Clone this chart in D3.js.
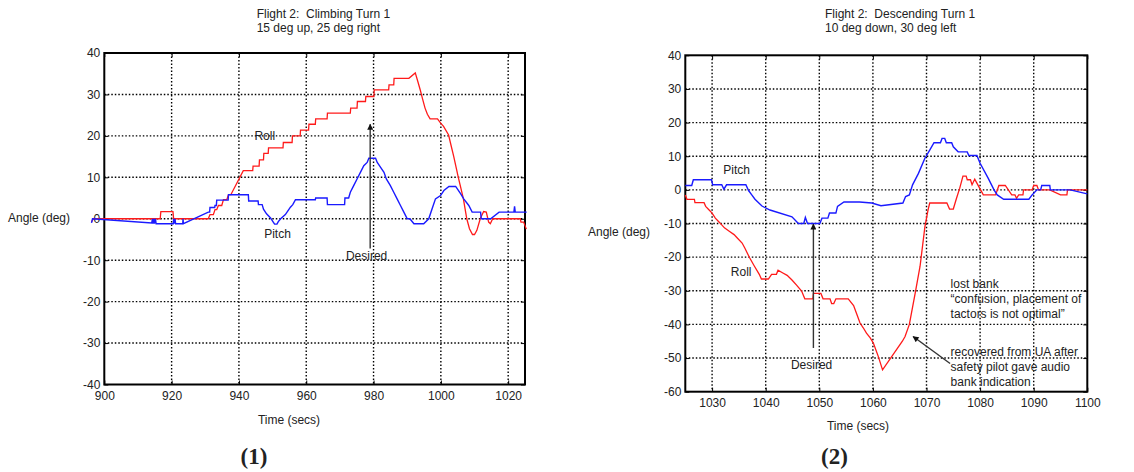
<!DOCTYPE html>
<html>
<head>
<meta charset="utf-8">
<script src="https://cdn.jsdelivr.net/npm/d3@7"></script>
<style>
body { margin: 0; background: #fff; }
text { font-family: "Liberation Sans", Arial, sans-serif; font-size: 12px; fill: #222; white-space: pre; }
</style>
</head>
<body>
<script>
// values, [time (s), angle (deg)]
var climbRoll = [[896.2,-0.8],[896.7,0],[916.6,0],[916.8,1.7],[920.4,1.7],[920.6,0],[930.9,0],
    [931.4,1],[932.4,1],[932.9,2.2],[933.4,2.2],[933.9,3.2],[934.9,3.2],[935.4,4.6],[936.4,4.6],[936.9,5.8],[937.6,5.8],
    [941.3,11.6],[944.1,11.6],[944.2,12.7],[946,12.7],[946.1,14.2],[947.3,14.2],[947.4,15.8],[948.7,15.8],[948.8,17.1],
    [953.1,17.1],[953.2,18.4],[955.8,18.4],[955.9,20],[958.2,20],[958.3,21.4],[960.7,21.4],[960.8,22.8],[962.7,22.8],
    [962.8,24.1],[966.2,24.1],[966.3,25.5],[973.1,25.5],[973.2,26.7],[975.1,26.7],[975.2,28.3],[977.6,28.3],[977.7,29.5],
    [980.1,29.5],[980.2,31.1],[984.5,31.1],[984.6,32.3],[986,32.3],[986.1,33.9],[990.5,33.9],[992.4,35.2],
    [993.2,33],[993.9,31],[994.6,28.8],[995.3,26.7],[996,25.2],[996.8,24.1],[999,24.1],[1000,23],[1000.8,22.3],
    [1002.3,20.2],[1003,17.8],[1003.8,15.1],[1004.5,12.5],[1005.2,9.9],[1006,7.2],[1006.7,4.8],[1007.2,2.4],[1007.7,0],
    [1008.5,-2.4],[1009.4,-3.8],[1010,-3.8],[1010.7,-2.8],[1011.7,0],[1012.7,1.75],[1013.5,1.6],[1014.2,-0.8],[1014.7,-1.2],
    [1015.4,0],[1023.6,0],[1023.8,-0.8],[1024.6,-0.8],[1025.4,-2.5]];

var climbPitch = [[896.2,-1],[896.5,0],[914.1,-1],[914.3,0],[914.5,-1.2],[914.7,0],[914.9,-1.2],[915.2,0],[915.4,-1.2],
    [920.5,-1.2],[920.6,0],[920.8,-1.2],[921,0],[921.2,-1.2],[923.3,-1.2],[923.4,0],[923.5,-1.2],
    [930.9,1.6],[931.3,1.6],[931.4,2.7],[932.8,2.7],[932.9,3.2],[933.3,3.2],[933.4,4.5],[936.8,4.5],[936.9,5.8],
    [942.8,5.8],[942.9,4.3],[945.7,4.3],[945.8,3.4],[946.9,3.4],[947.3,2.3],[948.2,1.2],[949.4,0.2],[950.2,-0.8],
    [950.6,-1.3],[951.3,-1.3],[951.7,-0.7],[952.4,0],[953.8,1],[954.8,2.2],[955.3,2.8],[956,3.4],[956.8,4.6],
    [962.7,4.6],[962.8,5],[966.2,5],[966.3,3.4],[971.4,3.4],[971.5,5],[972.6,5],[973.1,6.4],[974.1,8],[975.1,9.6],
    [976.1,11.2],[977.1,12.8],[978.1,13.6],[978.6,14.6],[980.6,14.6],[981.1,13.6],[982.1,12.4],[983.1,11.2],[983.8,9.6],
    [985,8],[986,6.4],[987,4.8],[988,3.2],[989,1.6],[990,0],[990.8,0],[992,-1.2],[994.9,-1.2],[996.4,0],[997.4,2.4],
    [998.4,4.8],[999.9,5.6],[1000.9,6.8],[1002.4,7.8],[1004.4,7.8],[1005.9,6],[1006.8,4.8],[1008.3,3.2],[1009.3,1.6],
    [1011.8,1.6],[1012,0],[1014.8,0],[1017.3,1.6],[1021.7,1.6],[1021.9,3],[1022.1,1.6],[1025.5,1.6]];

var descRoll = [[1025,-1.5],[1025.3,-2.8],[1026.7,-2.8],[1026.8,-3.8],[1028.5,-3.8],[1028.8,-4.9],[1029.4,-5.9],[1030,-6.9],
    [1030.6,-8.4],[1031.2,-9.4],[1031.8,-10.4],[1032.3,-11.3],[1033.2,-12.3],[1034.1,-13.3],[1034.7,-14.3],[1035.6,-15.8],
    [1036.1,-17.3],[1037,-20.2],[1037.9,-22.7],[1038.8,-25.1],[1039.2,-26.5],[1040.5,-26.5],[1041.1,-25.1],[1042,-25.1],
    [1042.3,-23.9],[1043.2,-24.7],[1044,-25.4],[1044.9,-26.8],[1045.8,-28.4],[1046.7,-30.1],[1047.3,-32.4],[1048.8,-32.4],
    [1048.9,-30.8],[1050.3,-30.8],[1050.7,-32.4],[1052,-32.4],[1052.3,-33.8],[1052.7,-33.8],[1053.1,-32.4],[1055.4,-32.4],
    [1056.4,-34.4],[1057,-37],[1057.6,-39.6],[1058.2,-41],[1058.8,-42.6],[1059.5,-44],[1060.1,-45.6],[1061,-49.5],
    [1061.8,-53.5],[1065.5,-45],[1066,-43.6],[1066.8,-40],[1067.9,-30.6],[1068.8,-22.7],[1069.7,-11],[1070.3,-5.9],
    [1070.6,-3.9],[1073.8,-3.9],[1074.3,-5.7],[1075,-5.7],[1075.6,-2.5],[1076.2,0.5],[1076.8,4.1],[1077.4,4.1],[1077.6,3],
    [1078.2,3],[1078.5,1.5],[1079,3.2],[1079.4,2],[1080.6,-1.5],[1082.9,-1.5],[1083.5,1.3],[1084.7,1.3],[1085.9,-1.5],
    [1086.5,-1.5],[1086.8,-2.5],[1087.2,-1.5],[1088,-1.5],[1088.1,0],[1089.7,0],[1090,1.3],[1090.6,1.3],[1090.9,0],
    [1093,0],[1095,-1.5],[1096.2,-1.5],[1096.3,0],[1100,0]];

var descPitch = [[1025,1.3],[1026.2,1.3],[1026.5,3],[1029.9,3],[1030.1,1.5],[1031.8,1.5],[1032.2,0.2],[1032.7,1.5],
    [1036.3,1.5],[1036.8,-0.2],[1037.4,-1.5],[1038,-2.8],[1039.3,-4.8],[1040.8,-6],[1044.9,-8],[1046.1,-10],[1047.1,-10],
    [1047.4,-8.2],[1047.8,-10],[1050.1,-10],[1050.5,-8.4],[1051.6,-8.4],[1051.9,-6.9],[1053.1,-6.9],[1053.4,-4.9],
    [1054.6,-3.6],[1057.5,-3.6],[1059.8,-3.9],[1061.5,-4.7],[1065.6,-3.9],[1066.1,-2],[1066.8,-1.5],[1067.4,1.5],
    [1068.5,4.9],[1069.7,9.4],[1070.6,11.8],[1071.4,14],[1072.6,14],[1072.9,15.3],[1073.4,15.3],[1073.7,14],[1074.7,14],
    [1075,12.8],[1075.9,11.3],[1077.6,11.3],[1077.9,10.2],[1079.4,10.2],[1080,7.9],[1081.5,3.5],[1082.6,0],[1083.2,-1.5],
    [1084.4,-2.8],[1089.1,-2.8],[1089.7,-1.5],[1090.6,0],[1091.3,0],[1091.5,1.3],[1093,1.3],[1093.1,0],[1096.8,0],[1100,-1.2]];

var climbXTicks = [900, 920, 940, 960, 980, 1000, 1020];
var climbYTicks = [-40, -30, -20, -10, 0, 10, 20, 30, 40];
var descXTicks = [1030, 1040, 1050, 1060, 1070, 1080, 1090, 1100];
var descYTicks = [-60, -50, -40, -30, -20, -10, 0, 10, 20, 30, 40];

var climbTitle = ["Flight 2:  Climbing Turn 1", "15 deg up, 25 deg right"];
var descTitle = ["Flight 2:  Descending Turn 1", "10 deg down, 30 deg left"];

// in-plot labels: [time, angle, text]
var climbNotes = [[944.6, 19, "Roll"], [947.5, -4.7, "Pitch"], [971.8, -9.9, "Desired"]];
var descNotes = [[1032.1, 4.8, "Pitch"], [1033.5, -25.6, "Roll"], [1044.7, -53.4, "Desired"],
    [1074.5, -29.1, "lost bank"], [1074.5, -33.6, "\u201cconfusion, placement of"], [1074.5, -38, "tactors is not optimal\u201d"],
    [1074.5, -49.4, "recovered from UA after"], [1074.5, -53.8, "safety pilot gave audio"], [1074.5, -58.2, "bank indication"]];

// arrows: [x1, y1, x2, y2] tail -> head
var climbArrows = [[979, -7.2, 979, 22.8]];
var descArrows = [[1048.9, -47, 1048.9, -10.2], [1074.4, -51.6, 1067.5, -43.6]];

var svg = d3.select("body").append("svg")
    .attr("width", 1134)
    .attr("height", 472);

var defs = svg.append("defs");
defs.append("marker")
    .attr("id", "head")
    .attr("viewBox", "0 0 10 10")
    .attr("refX", 9).attr("refY", 5)
    .attr("markerWidth", 8).attr("markerHeight", 6)
    .attr("markerUnits", "userSpaceOnUse")
    .attr("orient", "auto")
  .append("path")
    .attr("d", "M0,0L10,5L0,10z")
    .attr("fill", "#111");

var plainNum = d => String(d);

function drawPanel(p) {
    var x = d3.scaleLinear().domain(p.xDomain).range([p.left, p.right]);
    var y = d3.scaleLinear().domain(p.yDomain).range([p.bottom, p.top]);
    var g = svg.append("g");

    // dotted grid
    g.selectAll(".vgrid").data(p.xTicks.filter(d => d > p.xDomain[0] && d < p.xDomain[1]))
        .enter().append("line")
        .attr("x1", d => x(d)).attr("x2", d => x(d))
        .attr("y1", p.top).attr("y2", p.bottom)
        .attr("stroke", "#000").attr("stroke-width", 1.4)
        .attr("stroke-dasharray", "1.5,2");
    g.selectAll(".hgrid").data(p.yTicks.filter(d => d > p.yDomain[0] && d < p.yDomain[1]))
        .enter().append("line")
        .attr("y1", d => y(d)).attr("y2", d => y(d))
        .attr("x1", p.left).attr("x2", p.right)
        .attr("stroke", "#000").attr("stroke-width", 1.4)
        .attr("stroke-dasharray", "1.5,2");

    // axes with inward ticks
    g.append("g")
        .attr("transform", "translate(0," + p.bottom + ")")
        .call(d3.axisBottom(x).tickValues(p.xTicks).tickFormat(plainNum).tickSizeInner(-4).tickSizeOuter(0).tickPadding(7))
        .call(a => a.select(".domain").remove())
        .call(a => a.selectAll("text").attr("fill", "#222").style("font-size", "12px").attr("font-family", null));
    g.append("g")
        .attr("transform", "translate(" + p.left + ",0)")
        .call(d3.axisLeft(y).tickValues(p.yTicks).tickFormat(plainNum).tickSizeInner(-4).tickSizeOuter(0).tickPadding(4))
        .call(a => a.select(".domain").remove())
        .call(a => a.selectAll("text").attr("fill", "#222").style("font-size", "12px").attr("font-family", null));
    g.append("g")
        .attr("transform", "translate(0," + p.top + ")")
        .call(d3.axisTop(x).tickValues(p.xTicks).tickSizeInner(-4).tickSizeOuter(0).tickFormat(""))
        .call(a => a.select(".domain").remove());
    g.append("g")
        .attr("transform", "translate(" + p.right + ",0)")
        .call(d3.axisRight(y).tickValues(p.yTicks).tickSizeInner(-4).tickSizeOuter(0).tickFormat(""))
        .call(a => a.select(".domain").remove());

    g.append("rect")
        .attr("x", p.left).attr("y", p.top)
        .attr("width", p.right - p.left).attr("height", p.bottom - p.top)
        .attr("fill", "none").attr("stroke", "#000").attr("stroke-width", 2);

    var line = d3.line().x(d => x(d[0])).y(d => y(d[1]));
    g.append("path").datum(p.roll)
        .attr("d", line).attr("fill", "none")
        .attr("stroke", "#ff1a1a").attr("stroke-width", 1.3);
    g.append("path").datum(p.pitch)
        .attr("d", line).attr("fill", "none")
        .attr("stroke", "#1a1aff").attr("stroke-width", 1.4);

    g.selectAll(".arrow").data(p.arrows)
        .enter().append("line")
        .attr("x1", d => x(d[0])).attr("y1", d => y(d[1]))
        .attr("x2", d => x(d[2])).attr("y2", d => y(d[3]))
        .attr("stroke", "#333").attr("stroke-width", 1.4)
        .attr("marker-end", "url(#head)");

    g.selectAll(".note").data(p.notes)
        .enter().append("text")
        .attr("x", d => x(d[0])).attr("y", d => y(d[1]))
        .text(d => d[2]);

    // titles and axis names
    g.selectAll(".title").data(p.title)
        .enter().append("text")
        .attr("x", p.titleX).attr("y", (d, i) => 17.5 + i * 14.5)
        .text(d => d);
    g.append("text")
        .attr("x", p.yLabelX).attr("y", p.yLabelY)
        .text("Angle (deg)");
    g.append("text")
        .attr("x", p.xLabelX).attr("y", p.xLabelY)
        .attr("text-anchor", "middle")
        .text("Time (secs)");
    g.append("text")
        .attr("x", p.numX).attr("y", 464)
        .attr("text-anchor", "middle")
        .style("font-family", "'Liberation Serif', 'Times New Roman', serif")
        .style("font-size", "23px").style("font-weight", "bold")
        .attr("fill", "#000")
        .text(p.num);
}

drawPanel({
    left: 104.3, right: 525, top: 53, bottom: 384.5,
    xDomain: [900, 1025], yDomain: [-40, 40],
    xTicks: climbXTicks, yTicks: climbYTicks,
    roll: climbRoll, pitch: climbPitch,
    notes: climbNotes, arrows: climbArrows, title: climbTitle,
    titleX: 256.7, yLabelX: 8, yLabelY: 222,
    xLabelX: 289, xLabelY: 424, numX: 254, num: "(1)"
});

drawPanel({
    left: 685.3, right: 1087.3, top: 55.3, bottom: 391.7,
    xDomain: [1025, 1100], yDomain: [-60, 40],
    xTicks: descXTicks, yTicks: descYTicks,
    roll: descRoll, pitch: descPitch,
    notes: descNotes, arrows: descArrows, title: descTitle,
    titleX: 825, yLabelX: 588, yLabelY: 236,
    xLabelX: 858, xLabelY: 430, numX: 834.5, num: "(2)"
});
</script>
</body>
</html>
